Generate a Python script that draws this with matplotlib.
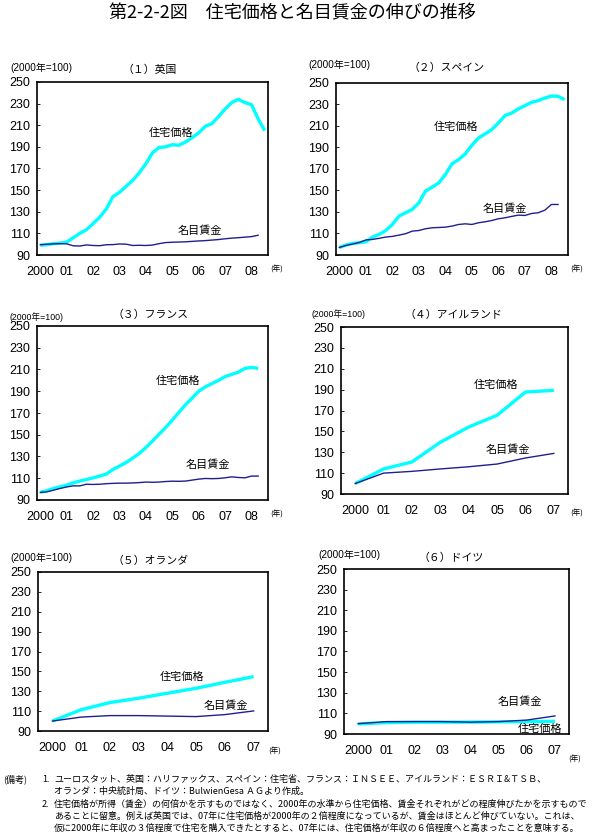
import matplotlib
matplotlib.use("Agg")
import matplotlib.pyplot as plt
import numpy as np

plt.rcParams['font.family'] = ['Liberation Sans', 'Noto Sans CJK JP', 'DejaVu Sans']

# ---------------- data ----------------
q_ticks_labels = ["2000", "01", "02", "03", "04", "05", "06", "07", "08"]
a_ticks_labels = ["2000", "01", "02", "03", "04", "05", "06", "07"]
y_ticks = [90, 110, 130, 150, 170, 190, 210, 230, 250]

uk_house = [99, 99.5, 100.5, 101, 102, 106, 110, 113.5, 119, 125, 132.5, 144,
            148, 153.5, 159, 166, 174.5, 184.5, 189.5, 190, 192, 191.5, 194.5, 198.5,
            203, 209, 211.5, 218, 225, 231, 234, 231, 229, 216, 205]
uk_wage = [99.5, 100, 100.3, 100.5, 100.3, 98.5, 98.3, 99.3, 98.8, 98.6, 99.5, 99.6,
           100.2, 100, 98.8, 99, 98.8, 99.2, 100.5, 101.5, 101.8, 102, 102.2, 102.6,
           103, 103.3, 103.8, 104.3, 105, 105.6, 106, 106.5, 107, 108.3]

es_house = [97, 99.2, 100.8, 101.4, 102.3, 106.7, 109.1, 112.8, 118.4, 126.2, 129.3, 132.4,
            138.5, 149.4, 153.1, 157.1, 164.9, 174.8, 178.8, 184, 192.1, 198.9, 202.6, 206.7,
            212.9, 219.7, 222.1, 225.9, 228.9, 232, 233.6, 236, 237.9, 237.6, 234.5]
es_wage = [97, 98.9, 100.2, 101.6, 104, 104.5, 105.5, 106.7, 107.3, 108.5, 109.8, 112.2,
           112.8, 114.4, 115.3, 115.6, 115.9, 116.9, 118.4, 119, 118.4, 120, 120.9, 122.1,
           123.7, 124.6, 125.9, 127.1, 126.8, 128.6, 129.3, 131.7, 137, 137]

fr_house = [97, 98.5, 100.6, 102.1, 103.7, 105.8, 107.4, 108.9, 110.4, 112, 113.8, 118.1,
            121.2, 124.5, 128.5, 132.8, 138.3, 144.2, 150.6, 156.7, 163.5, 170.6, 177.6, 183.7,
            190, 194, 197, 200, 203.5, 205.5, 207.5, 211, 212, 211]
fr_wage = [97, 97.5, 99, 100.6, 102, 103, 103, 104.5, 104.3, 104.5, 105, 105.3,
           105.5, 105.5, 105.7, 106, 106.5, 106.3, 106.5, 107, 107.3, 107.2, 107.4, 108.3,
           109.2, 109.8, 109.6, 109.8, 110.4, 111.3, 110.7, 110.4, 112, 112]

ie_house = [100, 114, 120.7, 139.6, 154.2, 165.4, 187.7, 189.3]
ie_wage = [100, 110, 111.7, 114, 116.1, 118.7, 124.5, 128.9]

nl_house = [100, 111.4, 118.6, 123, 128, 133, 139, 144.7]
nl_wage = [100, 104, 105.5, 105.5, 105, 104.5, 106.5, 110.2]

de_house = [99.8, 101, 101.5, 101.5, 101.5, 101.8, 102, 102.3]
de_wage = [100, 102, 102, 102, 101.5, 102, 103.5, 107.5]

house_label = "住宅価格"
wage_label = "名目賃金"
unit_label = "(2000年=100)"
year_label = "(年)"

# ---------------- layout ----------------
W, H = 600, 838
fig = plt.figure(figsize=(W / 100, H / 100), dpi=100)
fig.patch.set_facecolor("white")

def px_axes(left, right, top, bottom):
    return fig.add_axes([left / W, 1 - bottom / H, (right - left) / W, (bottom - top) / H])

JP = ['Noto Sans CJK JP', 'DejaVu Sans']
CYAN = "#00FFFF"
NAVY = "#1F1F8F"

panels = [
    dict(rect=(37, 268, 82, 255), house=uk_house, wage=uk_wage, quarterly=True,
         title="（１）英国", tpos=(150, 70), upos=(10, 68), ufs=7.2,
         hl=(19.8, 203), wl=(24.1, 112.5), yrpos=(277, 270)),
    dict(rect=(336, 568, 83, 255), house=es_house, wage=es_wage, quarterly=True,
         title="（２）スペイン", tpos=(447, 68), upos=(308, 65), ufs=7.2,
         hl=(17.6, 209), wl=(25.0, 133), yrpos=(577, 270)),
    dict(rect=(37, 268, 326, 500), house=fr_house, wage=fr_wage, quarterly=True,
         title="（３）フランス", tpos=(151, 315), upos=(10, 317), ufs=6.3,
         hl=(20.9, 200), wl=(25.4, 122.7), yrpos=(277, 515)),
    dict(rect=(341, 568, 327, 494), house=ie_house, wage=ie_wage, quarterly=False,
         title="（４）アイルランド", tpos=(453, 315), upos=(312, 314), ufs=6.3,
         hl=(4.98, 194.7), wl=(5.38, 132.4), yrpos=(577, 514)),
    dict(rect=(38, 268, 572, 731), house=nl_house, wage=nl_wage, quarterly=False,
         title="（５）オランダ", tpos=(151, 561), upos=(10, 558), ufs=7.2,
         hl=(4.5, 144.6), wl=(6.02, 115.6), yrpos=(275, 752)),
    dict(rect=(344, 569, 569, 734), house=de_house, wage=de_wage, quarterly=False,
         title="（６）ドイツ", tpos=(451, 558), upos=(318, 555), ufs=7.2,
         hl=(6.46, 95), wl=(5.75, 120.9), yrpos=(575, 760)),
]

for p in panels:
    ax = px_axes(*p["rect"])
    if p["quarterly"]:
        xh = np.arange(len(p["house"]))
        xw = np.arange(len(p["wage"]))
        ax.set_xlim(-0.5, 34.5)
        ax.set_xticks(np.arange(0, 33, 4))
        ax.set_xticklabels(q_ticks_labels)
    else:
        xh = np.arange(len(p["house"]))
        xw = np.arange(len(p["wage"]))
        ax.set_xlim(-0.5, 7.5)
        ax.set_xticks(np.arange(8))
        ax.set_xticklabels(a_ticks_labels)
    ax.plot(xw, p["wage"], color=NAVY, lw=1.0, zorder=3)
    ax.plot(xh, p["house"], color=CYAN, lw=2.4, zorder=2, solid_capstyle="butt")
    ax.set_ylim(90, 250)
    ax.set_yticks(y_ticks)
    ax.tick_params(axis="y", direction="in", length=2, width=0.6, labelsize=9, pad=5)
    ax.tick_params(axis="x", length=0, labelsize=9, pad=8)
    for s in ax.spines.values():
        s.set_linewidth(1.2)
        s.set_color("black")
    ax.text(p["hl"][0], p["hl"][1], house_label, family=JP, fontsize=8,
            ha="center", va="center", zorder=5)
    ax.text(p["wl"][0], p["wl"][1], wage_label, family=JP, fontsize=8,
            ha="center", va="center", zorder=5)
    fig.text(p["tpos"][0] / W, 1 - p["tpos"][1] / H, p["title"], family=JP,
             fontsize=7.8, ha="center", va="center")
    fig.text(p["upos"][0] / W, 1 - p["upos"][1] / H, unit_label,
             family=['Liberation Sans', 'Noto Sans CJK JP'], fontsize=p["ufs"],
             ha="left", va="center")
    fig.text(p["yrpos"][0] / W, 1 - p["yrpos"][1] / H, year_label, family=JP,
             fontsize=5.5, ha="center", va="center")

fig.text(292 / W, 1 - 13 / H, "第2-2-2図　住宅価格と名目賃金の伸びの推移", family=JP,
         fontsize=13, ha="center", va="center")

notes = [
    (3, 779, "(備考)"),
    (42, 779, "1."),
    (54, 779, "ユーロスタット、英国：ハリファックス、スペイン：住宅省、フランス：ＩＮＳＥＥ、アイルランド：ＥＳＲＩ&ＴＳＢ、"),
    (54, 791, "オランダ：中央統計局、ドイツ：BulwienGesa ＡＧより作成。"),
    (42, 804, "2."),
    (54, 804, "住宅価格が所得（賃金）の何倍かを示すものではなく、2000年の水準から住宅価格、賃金それぞれがどの程度伸びたかを示すもので"),
    (54, 816, "あることに留意。例えば英国では、07年に住宅価格が2000年の２倍程度になっているが、賃金はほとんど伸びていない。これは、"),
    (54, 828, "仮に2000年に年収の３倍程度で住宅を購入できたとすると、07年には、住宅価格が年収の６倍程度へと高まったことを意味する。"),
]
for x, y, t in notes:
    fig.text(x / W, 1 - y / H, t, family=JP, fontsize=6.5, ha="left", va="center")

fig.savefig("out.png", dpi=100, facecolor="white")
